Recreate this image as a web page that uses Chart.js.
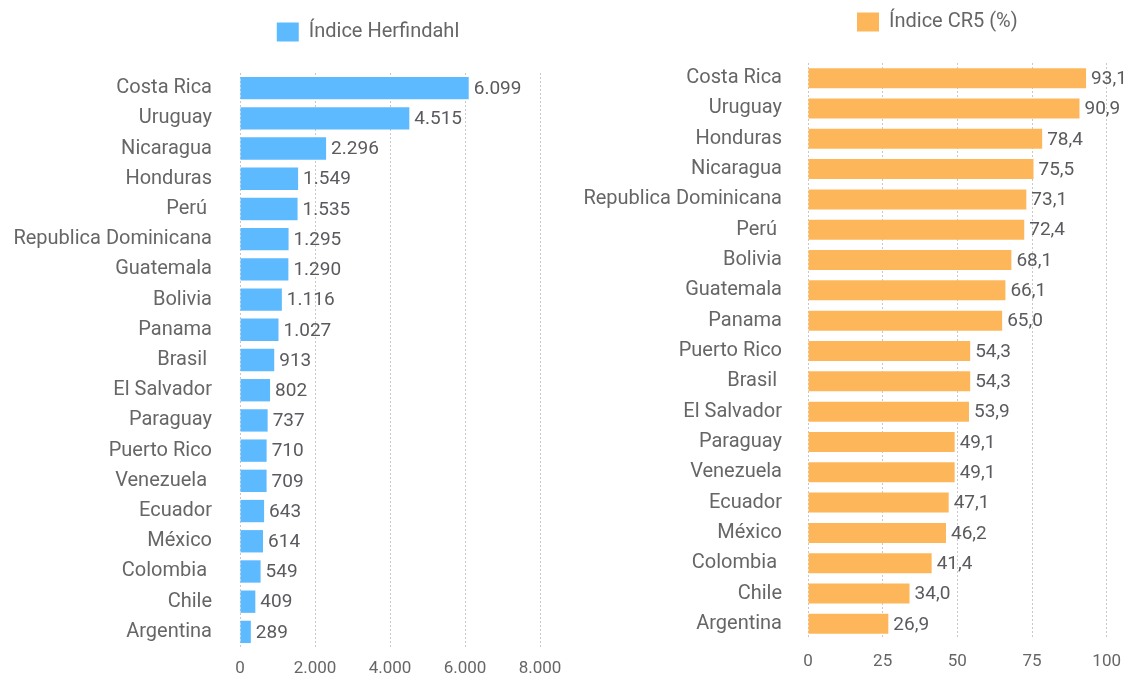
<!DOCTYPE html>
<html>
<head>
<meta charset="utf-8">
<script src="https://cdn.jsdelivr.net/npm/chart.js@4.4.1/dist/chart.umd.min.js"></script>
<style>
  body { margin: 0; background: #fff; }
  #left { position: absolute; left: 0; top: 0; width: 575px; height: 679px; }
  #right { position: absolute; left: 575px; top: 0; width: 559px; height: 679px; }
</style>
</head>
<body>
<div id="left"><canvas id="chartHerf"></canvas></div>
<div id="right"><canvas id="chartCr5"></canvas></div>
<script>
// data
const herfCountries = ['Costa Rica', 'Uruguay', 'Nicaragua', 'Honduras', 'Perú ', 'Republica Dominicana',
  'Guatemala', 'Bolivia', 'Panama', 'Brasil ', 'El Salvador', 'Paraguay', 'Puerto Rico', 'Venezuela ',
  'Ecuador', 'México', 'Colombia ', 'Chile', 'Argentina'];
const herfValues = [6099, 4515, 2296, 1549, 1535, 1295, 1290, 1116, 1027, 913, 802, 737, 710, 709, 643, 614, 549, 409, 289];

const cr5Countries = ['Costa Rica', 'Uruguay', 'Honduras', 'Nicaragua', 'Republica Dominicana', 'Perú ',
  'Bolivia', 'Guatemala', 'Panama', 'Puerto Rico', 'Brasil ', 'El Salvador', 'Paraguay', 'Venezuela',
  'Ecuador', 'México', 'Colombia ', 'Chile', 'Argentina'];
const cr5Values = [93.1, 90.9, 78.4, 75.5, 73.1, 72.4, 68.1, 66.1, 65.0, 54.3, 54.3, 53.9, 49.1, 49.1, 47.1, 46.2, 41.4, 34.0, 26.9];

const herfTicks = [0, 2000, 4000, 6000, 8000];
const cr5Ticks = [0, 25, 50, 75, 100];

Chart.defaults.font.family = 'Roboto, sans-serif';
Chart.defaults.color = '#666';

const fmtHerf = v => v.toLocaleString('de-DE');
const fmtCr5 = v => v.toFixed(1).replace('.', ',');

// value labels at the end of each bar
const valueLabels = {
  id: 'valueLabels',
  afterDatasetsDraw(chart, args, opts) {
    const ctx = chart.ctx;
    const meta = chart.getDatasetMeta(0);
    ctx.save();
    ctx.font = '19px Roboto, sans-serif';
    ctx.fillStyle = '#5a5a5f';
    ctx.textBaseline = 'middle';
    ctx.textAlign = 'left';
    meta.data.forEach((bar, i) => {
      const v = chart.data.datasets[0].data[i];
      ctx.fillText(opts.fmt(v), bar.x + 5, bar.y + 1);
    });
    ctx.restore();
  }
};

// extra room under the legend and a small sideways shift
const legendTweak = {
  id: 'legendTweak',
  beforeInit(chart) {
    const lg = chart.legend;
    const origFit = lg.fit;
    lg.fit = function () {
      origFit.call(this);
      this.height += chart.options.plugins.legendTweak.extra;
    };
  },
  afterLayout(chart) {
    const s = chart.options.plugins.legendTweak.shift;
    chart.legend.left -= s;
    chart.legend.right -= s;
  }
};

function makeConfig(labels, values, name, color, max, ticks, yWidth, labelPad, padRight, padTop, legPad, extra, shift, xHeight, xPad, barPct, fmt) {
  return {
    type: 'bar',
    data: {
      labels: labels,
      datasets: [{
        label: name,
        data: values,
        backgroundColor: color,
        borderWidth: 0,
        barPercentage: barPct,
        categoryPercentage: 1
      }]
    },
    plugins: [valueLabels, legendTweak],
    options: {
      indexAxis: 'y',
      responsive: true,
      maintainAspectRatio: false,
      animation: false,
      layout: { padding: { top: padTop, right: padRight, bottom: 0, left: 0 } },
      plugins: {
        legend: {
          display: true,
          position: 'top',
          fullSize: false,
          labels: { boxWidth: 22, boxHeight: 19, font: { size: 20 }, color: '#666', padding: legPad }
        },
        tooltip: { enabled: false },
        valueLabels: { fmt: fmt },
        legendTweak: { extra: extra, shift: shift }
      },
      scales: {
        x: {
          min: 0,
          max: max,
          afterBuildTicks: s => { s.ticks = ticks.map(v => ({ value: v })); },
          afterFit: s => { s.height = xHeight; },
          ticks: { font: { size: 17 }, color: '#666', padding: xPad, callback: v => fmt === fmtHerf ? fmtHerf(v) : String(v) },
          grid: { color: '#c8c8c8', drawTicks: false, tickLength: 0 },
          border: { display: false, dash: [2, 2] }
        },
        y: {
          afterFit: s => { s.width = yWidth; s.paddingTop = 0; s.paddingBottom = 0; },
          ticks: { font: { size: 20 }, color: '#666', padding: labelPad, autoSkip: false },
          grid: { display: false, drawTicks: false },
          border: { display: false }
        }
      }
    }
  };
}

const cfgL = makeConfig(herfCountries, herfValues, 'Índice Herfindahl', 'rgb(94, 186, 255)', 8000, herfTicks,
  240, 28, 35, 8, 14, 21, 22, 32, 12, 0.74, fmtHerf);
cfgL.options.scales.x.grid.dash = [2, 2];
const chartL = new Chart(document.getElementById('chartHerf'), cfgL);

const cfgR = makeConfig(cr5Countries, cr5Values, 'Índice CR5 (%)', 'rgb(253, 183, 90)', 100, cr5Ticks,
  233, 26, 22, 0, 12, 21, 20, 40, 13, 0.66, fmtCr5);
cfgR.options.scales.x.grid.dash = [2, 2];
const chartR = new Chart(document.getElementById('chartCr5'), cfgR);
</script>
</body>
</html>
